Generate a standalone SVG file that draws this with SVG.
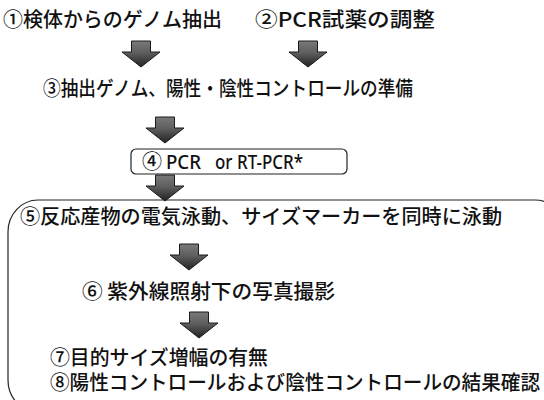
<svg xmlns="http://www.w3.org/2000/svg" width="544" height="400" viewBox="0 0 544 400">
  <defs>
    <linearGradient id="ag" x1="0" y1="0" x2="0" y2="1">
      <stop offset="0" stop-color="#7a7a7a"/>
      <stop offset="0.45" stop-color="#5e5e5e"/>
      <stop offset="1" stop-color="#222222"/>
    </linearGradient>
    <path id="arr" d="M-9.5,0 h19 v11 h9.5 L0,26 L-19,11 h9.5 z"/>
    <style>
      .t { font-family: "Noto Sans CJK JP", "Noto Sans", sans-serif; font-size: 20px; font-weight: 500; fill: #111; }
      .lat { font-family: "Noto Sans", "Noto Sans CJK JP", sans-serif; font-size: 19px; fill: #111; font-weight: 500; }
      .frame { fill: none; stroke: #222; stroke-width: 1.2; }
      .arrow { fill: url(#ag); stroke: #1a1a1a; stroke-width: 1; stroke-linejoin: miter; }
    </style>
  </defs>
  <rect width="544" height="400" fill="#ffffff"/>

  <g id="node1">
    <text class="t" x="3" y="27" textLength="219" lengthAdjust="spacingAndGlyphs">①検体からのゲノム抽出</text>
  </g>
  <g id="node2">
    <text class="t" x="255" y="27" textLength="180" lengthAdjust="spacingAndGlyphs">②PCR試薬の調整</text>
  </g>
  <g id="node3">
    <text class="t" x="43" y="96" textLength="370" lengthAdjust="spacingAndGlyphs">③抽出ゲノム、陽性・陰性コントロールの準備</text>
  </g>
  <g id="node4">
    <rect class="frame" x="131" y="149" width="216" height="25" rx="5" ry="5"/>
    <text class="t" x="142" y="169">④</text>
    <text class="lat" x="166" y="169" textLength="35" lengthAdjust="spacingAndGlyphs">PCR</text>
    <text class="lat" x="215" y="169" textLength="88" lengthAdjust="spacingAndGlyphs">or RT-PCR*</text>
  </g>
  <g id="node5">
    <rect class="frame" x="8" y="200" width="557" height="212" rx="30" ry="32"/>
    <text class="t" x="20" y="224" textLength="482" lengthAdjust="spacingAndGlyphs">⑤反応産物の電気泳動、サイズマーカーを同時に泳動</text>
  </g>
  <g id="node6">
    <text class="t" x="82" y="299" textLength="253" lengthAdjust="spacingAndGlyphs">⑥ 紫外線照射下の写真撮影</text>
  </g>
  <g id="node7">
    <text class="t" x="50" y="365" textLength="218" lengthAdjust="spacingAndGlyphs">⑦目的サイズ増幅の有無</text>
  </g>
  <g id="node8">
    <text class="t" x="50" y="390" font-size="19.5" textLength="490" lengthAdjust="spacingAndGlyphs">⑧陽性コントロールおよび陰性コントロールの結果確認</text>
  </g>

  <g id="connectors">
    <use href="#arr" class="arrow" x="141" y="41"/>
    <use href="#arr" class="arrow" x="308" y="41"/>
    <use href="#arr" class="arrow" x="165" y="117"/>
    <use href="#arr" class="arrow" x="165" y="175"/>
    <use href="#arr" class="arrow" x="189" y="244"/>
    <use href="#arr" class="arrow" x="199" y="312"/>
  </g>
</svg>
